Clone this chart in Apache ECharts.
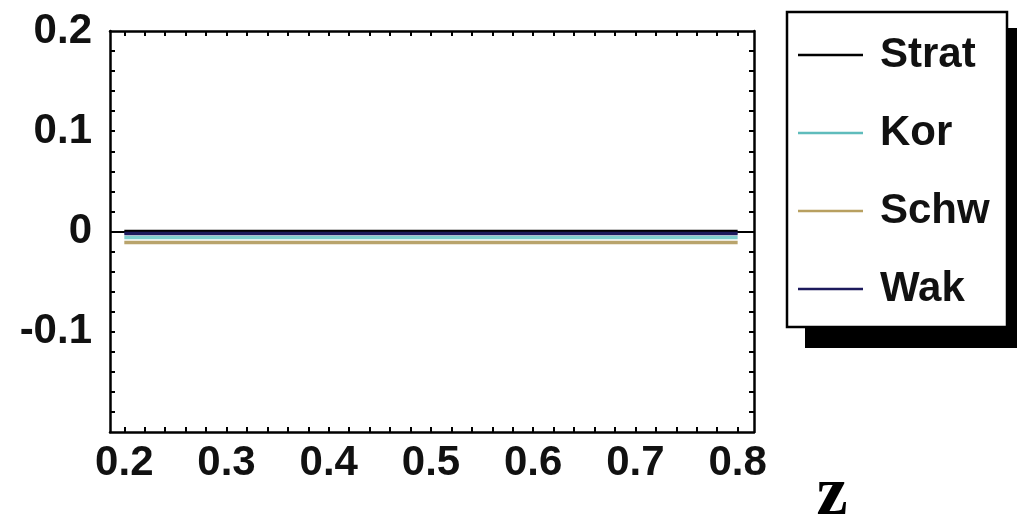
<!DOCTYPE html>
<html>
<head>
<meta charset="utf-8">
<script src="https://cdn.jsdelivr.net/npm/echarts@6/dist/echarts.min.js"></script>
<style>html,body{margin:0;padding:0;background:#fff}#c{width:1017px;height:514px}</style>
</head>
<body>
<div id="c"></div>
<script>
const xValues = [0.2, 0.3, 0.4, 0.5, 0.6, 0.7, 0.8];
const strat = [0, 0, 0, 0, 0, 0, 0];
const kor = [-0.006, -0.006, -0.006, -0.006, -0.006, -0.006, -0.006];
const schw = [-0.011, -0.011, -0.011, -0.011, -0.011, -0.011, -0.011];
const wak = [-0.002, -0.002, -0.002, -0.002, -0.002, -0.002, -0.002];
const seriesNames = ['Strat', 'Kor', 'Schw', 'Wak'];
const xLabelValues = [0.2, 0.3, 0.4, 0.5, 0.6, 0.7, 0.8];
const xTickValues = [0.2,0.22,0.24,0.26,0.28,0.3,0.32,0.34,0.36,0.38,0.4,0.42,0.44,0.46,0.48,0.5,0.52,0.54,0.56,0.58,0.6,0.62,0.64,0.66,0.68,0.7,0.72,0.74,0.76,0.78,0.8];
const yLabelValues = [-0.1, 0, 0.1, 0.2];
const yTickValues = [-0.18,-0.16,-0.14,-0.12,-0.1,-0.08,-0.06,-0.04,-0.02,0,0.02,0.04,0.06,0.08,0.1,0.12,0.14,0.16,0.18];
const axisTitle = 'z';

const colors = ['#000000', '#7fcfcf', '#b9a46c', '#1c1a5c'];
const legendColors = ['#000000', '#5fbcbc', '#b8a060', '#1c1a5c'];
const allData = [strat, kor, schw, wak];

const chart = echarts.init(document.getElementById('c'));
const labelFont = {fontFamily: 'Liberation Sans', fontWeight: 'bold', fontSize: 42, color: '#111'};
function fmt(v) { const r = Math.round(v * 10) / 10; return r === 0 ? '0' : String(r); }
const frameLine = {show: true, onZero: false, lineStyle: {color: '#000', width: 2.5}};

const xBase = (pos, showLabel) => ({
  type: 'value', position: pos, min: 0.186, max: 0.816,
  axisLine: frameLine,
  axisTick: {show: true, inside: true, length: 5, customValues: xTickValues, lineStyle: {color: '#000', width: 2}},
  axisLabel: Object.assign({show: showLabel, customValues: xLabelValues, margin: 10, formatter: fmt}, labelFont),
  splitLine: {show: false}
});
const yBase = (pos, showLabel) => ({
  type: 'value', position: pos, min: -0.2, max: 0.2,
  axisLine: frameLine,
  axisTick: {show: true, inside: true, length: 5, customValues: yTickValues, lineStyle: {color: '#000', width: 2}},
  axisLabel: Object.assign({show: showLabel, customValues: yLabelValues, margin: 18, formatter: fmt}, labelFont),
  splitLine: {show: false}
});

const series = seriesNames.map((name, i) => ({
  name: name, type: 'line', showSymbol: false, symbol: 'none',
  data: xValues.map((x, j) => [x, allData[i][j]]),
  lineStyle: {color: colors[i], width: 3.5},
  itemStyle: {color: colors[i]},
  z: 3 + i,
  animation: false
}));
series[0].markLine = {
  silent: true, symbol: ['none', 'none'], label: {show: false},
  lineStyle: {color: '#000', width: 2, type: 'solid'},
  data: [{yAxis: 0}]
};

chart.setOption({
  animation: false,
  backgroundColor: '#fff',
  grid: {left: 110, right: 263, top: 31, bottom: 82, containLabel: false},
  xAxis: [xBase('bottom', true), xBase('top', false)],
  yAxis: [yBase('left', true), yBase('right', false)],
  legend: {
    orient: 'vertical', left: 798, top: 34, z: 10, padding: 0,
    data: seriesNames.map((n, i) => ({name: n, icon: 'rect', itemStyle: {color: legendColors[i]}})),
    itemWidth: 65, itemHeight: 2.5, itemGap: 36,
    textStyle: {fontFamily: 'Liberation Sans', fontWeight: 'bold', fontSize: 42, lineHeight: 40, color: '#111', padding: [0, 0, 0, 12]}
  },
  graphic: [
    {type: 'rect', z: 1, shape: {x: 805, y: 28, width: 220, height: 320}, style: {fill: '#000'}},
    {type: 'rect', z: 2, shape: {x: 787, y: 12, width: 220, height: 315}, style: {fill: '#fff', stroke: '#000', lineWidth: 2.5}},
    {type: 'text', z: 5, x: 832, y: 496, style: {text: axisTitle, font: 'bold 70px "Liberation Serif"', fill: '#000', textAlign: 'center', textVerticalAlign: 'middle'}}
  ],
  series: series
});
</script>
</body>
</html>
